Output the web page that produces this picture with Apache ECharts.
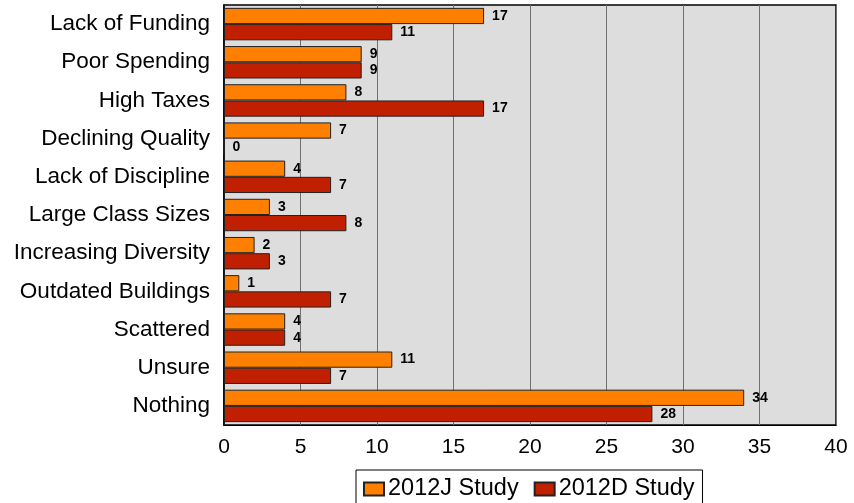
<!DOCTYPE html>
<html>
<head>
<meta charset="utf-8">
<script src="https://cdn.jsdelivr.net/npm/echarts@6/dist/echarts.min.js"></script>
<style>
html,body{margin:0;padding:0;background:#fff;}
#chart{width:854px;height:503px;}
</style>
</head>
<body>
<div id="chart"></div>
<script>
const categories = ["Lack of Funding","Poor Spending","High Taxes","Declining Quality","Lack of Discipline","Large Class Sizes","Increasing Diversity","Outdated Buildings","Scattered","Unsure","Nothing"];
const study2012J = [17,9,8,7,4,3,2,1,4,11,34];
const study2012D = [11,9,17,0,7,8,3,7,4,7,28];
const seriesNames = ["2012J Study","2012D Study"];
const xTicks = {min:0, max:40, interval:5};

const FONT = '"Liberation Sans", Arial, sans-serif';
const chart = echarts.init(document.getElementById('chart'), null, {renderer:'canvas'});
const labelCfg = {show:true, position:'right', distance:8, color:'#000', fontFamily:FONT, fontWeight:'bold', fontSize:14};
chart.setOption({
  animation:false,
  backgroundColor:'#fff',
  grid:{left:224, right:18, top:5, bottom:78, show:true, backgroundColor:'#DDDDDD', borderColor:'#000', borderWidth:1.5, containLabel:false},
  legend:{
    data:seriesNames, left:356, top:470, orient:'horizontal',
    itemWidth:20, itemHeight:13, itemGap:15, padding:[7,8,7,7],
    borderColor:'#000', borderWidth:1, backgroundColor:'#fff',
    textStyle:{fontFamily:FONT, fontSize:23.5, color:'#000', padding:[0,0,0,-1]},
    icon:'rect'
  },
  xAxis:{
    type:'value', min:xTicks.min, max:xTicks.max, interval:xTicks.interval,
    axisLine:{show:true, lineStyle:{color:'#000'}}, axisTick:{show:false},
    axisLabel:{fontFamily:FONT, fontSize:21, color:'#000', margin:12},
    splitLine:{show:true, lineStyle:{color:'#707070', width:1}}
  },
  yAxis:{
    type:'category', data:categories, inverse:true,
    axisLine:{show:true, lineStyle:{color:'#000', width:1.5}}, axisTick:{show:false},
    axisLabel:{fontFamily:FONT, fontSize:22.5, color:'#000', margin:14}
  },
  series:[
    {name:seriesNames[0], type:'bar', data:study2012J, barGap:'0%', barCategoryGap:'15%',
     itemStyle:{color:'#FF8000', borderColor:'#222', borderWidth:1}, label:labelCfg},
    {name:seriesNames[1], type:'bar', data:study2012D, barGap:'0%', barCategoryGap:'15%',
     itemStyle:{color:'#C02000', borderColor:'#222', borderWidth:1}, label:labelCfg}
  ]
});
</script>
</body>
</html>
